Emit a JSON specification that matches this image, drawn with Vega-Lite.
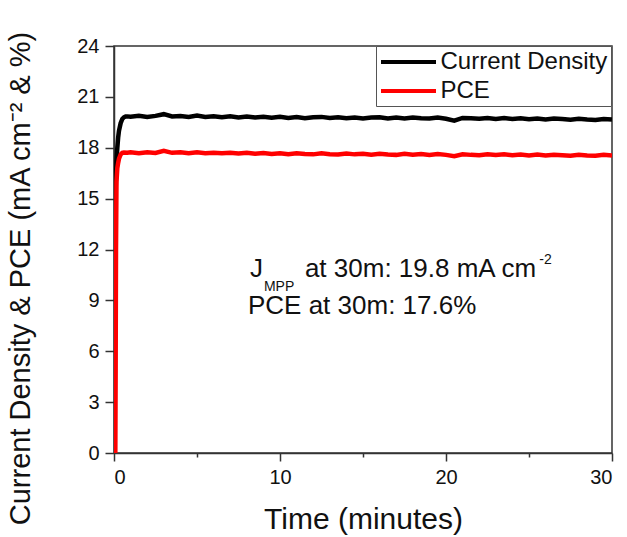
{
  "$schema": "https://vega.github.io/schema/vega-lite/v6.json",
  "width": 498,
  "height": 407,
  "autosize": {"type": "none"},
  "padding": {"left": 114, "top": 46, "right": 15, "bottom": 84},
  "background": "white",
  "config": {
    "font": "Liberation Sans",
    "view": {"stroke": "#333", "strokeWidth": 1.5},
    "axis": {
      "grid": false,
      "domainColor": "#333",
      "domainWidth": 1.5,
      "tickColor": "#333",
      "tickWidth": 1.5,
      "labelFont": "Liberation Sans",
      "labelFontSize": 20,
      "labelColor": "#111",
      "titleFont": "Liberation Sans",
      "titleFontWeight": "normal",
      "titleColor": "#111"
    }
  },
  "datasets": {
    "series": [
      {"t": 0, "v": 0, "s": "Current Density"},
      {"t": 0.05, "v": 8, "s": "Current Density"},
      {"t": 0.1, "v": 15.5, "s": "Current Density"},
      {"t": 0.15, "v": 17.2, "s": "Current Density"},
      {"t": 0.2, "v": 18.0, "s": "Current Density"},
      {"t": 0.25, "v": 18.6, "s": "Current Density"},
      {"t": 0.3, "v": 19.0, "s": "Current Density"},
      {"t": 0.4, "v": 19.45, "s": "Current Density"},
      {"t": 0.5, "v": 19.7, "s": "Current Density"},
      {"t": 0.6, "v": 19.8, "s": "Current Density"},
      {"t": 0.7, "v": 19.85, "s": "Current Density"},
      {"t": 0.8, "v": 19.85, "s": "Current Density"},
      {"t": 1, "v": 19.83, "s": "Current Density"},
      {"t": 1.5, "v": 19.88, "s": "Current Density"},
      {"t": 2, "v": 19.82, "s": "Current Density"},
      {"t": 2.5, "v": 19.88, "s": "Current Density"},
      {"t": 3, "v": 19.98, "s": "Current Density"},
      {"t": 3.5, "v": 19.85, "s": "Current Density"},
      {"t": 4, "v": 19.87, "s": "Current Density"},
      {"t": 4.5, "v": 19.82, "s": "Current Density"},
      {"t": 5, "v": 19.9, "s": "Current Density"},
      {"t": 5.5, "v": 19.81, "s": "Current Density"},
      {"t": 6, "v": 19.86, "s": "Current Density"},
      {"t": 6.5, "v": 19.8, "s": "Current Density"},
      {"t": 7, "v": 19.85, "s": "Current Density"},
      {"t": 7.5, "v": 19.79, "s": "Current Density"},
      {"t": 8, "v": 19.84, "s": "Current Density"},
      {"t": 8.5, "v": 19.78, "s": "Current Density"},
      {"t": 9, "v": 19.83, "s": "Current Density"},
      {"t": 9.5, "v": 19.77, "s": "Current Density"},
      {"t": 10, "v": 19.82, "s": "Current Density"},
      {"t": 10.5, "v": 19.76, "s": "Current Density"},
      {"t": 11, "v": 19.81, "s": "Current Density"},
      {"t": 11.5, "v": 19.74, "s": "Current Density"},
      {"t": 12, "v": 19.8, "s": "Current Density"},
      {"t": 12.5, "v": 19.82, "s": "Current Density"},
      {"t": 13, "v": 19.75, "s": "Current Density"},
      {"t": 13.5, "v": 19.8, "s": "Current Density"},
      {"t": 14, "v": 19.74, "s": "Current Density"},
      {"t": 14.5, "v": 19.79, "s": "Current Density"},
      {"t": 15, "v": 19.73, "s": "Current Density"},
      {"t": 15.5, "v": 19.78, "s": "Current Density"},
      {"t": 16, "v": 19.8, "s": "Current Density"},
      {"t": 16.5, "v": 19.72, "s": "Current Density"},
      {"t": 17, "v": 19.78, "s": "Current Density"},
      {"t": 17.5, "v": 19.73, "s": "Current Density"},
      {"t": 18, "v": 19.79, "s": "Current Density"},
      {"t": 18.5, "v": 19.74, "s": "Current Density"},
      {"t": 19, "v": 19.72, "s": "Current Density"},
      {"t": 19.5, "v": 19.78, "s": "Current Density"},
      {"t": 20, "v": 19.71, "s": "Current Density"},
      {"t": 20.5, "v": 19.6, "s": "Current Density"},
      {"t": 21, "v": 19.76, "s": "Current Density"},
      {"t": 21.5, "v": 19.74, "s": "Current Density"},
      {"t": 22, "v": 19.71, "s": "Current Density"},
      {"t": 22.5, "v": 19.76, "s": "Current Density"},
      {"t": 23, "v": 19.7, "s": "Current Density"},
      {"t": 23.5, "v": 19.75, "s": "Current Density"},
      {"t": 24, "v": 19.69, "s": "Current Density"},
      {"t": 24.5, "v": 19.74, "s": "Current Density"},
      {"t": 25, "v": 19.68, "s": "Current Density"},
      {"t": 25.5, "v": 19.73, "s": "Current Density"},
      {"t": 26, "v": 19.66, "s": "Current Density"},
      {"t": 26.5, "v": 19.72, "s": "Current Density"},
      {"t": 27, "v": 19.69, "s": "Current Density"},
      {"t": 27.5, "v": 19.65, "s": "Current Density"},
      {"t": 28, "v": 19.71, "s": "Current Density"},
      {"t": 28.5, "v": 19.66, "s": "Current Density"},
      {"t": 29, "v": 19.64, "s": "Current Density"},
      {"t": 29.5, "v": 19.7, "s": "Current Density"},
      {"t": 30, "v": 19.66, "s": "Current Density"},
      {"t": 0, "v": 0, "s": "PCE"},
      {"t": 0.05, "v": 0, "s": "PCE"},
      {"t": 0.08, "v": 0, "s": "PCE"},
      {"t": 0.1, "v": 5, "s": "PCE"},
      {"t": 0.12, "v": 12, "s": "PCE"},
      {"t": 0.15, "v": 16.0, "s": "PCE"},
      {"t": 0.2, "v": 16.8, "s": "PCE"},
      {"t": 0.25, "v": 17.1, "s": "PCE"},
      {"t": 0.3, "v": 17.35, "s": "PCE"},
      {"t": 0.4, "v": 17.6, "s": "PCE"},
      {"t": 0.5, "v": 17.7, "s": "PCE"},
      {"t": 0.6, "v": 17.72, "s": "PCE"},
      {"t": 0.8, "v": 17.7, "s": "PCE"},
      {"t": 1, "v": 17.73, "s": "PCE"},
      {"t": 1.5, "v": 17.68, "s": "PCE"},
      {"t": 2, "v": 17.74, "s": "PCE"},
      {"t": 2.5, "v": 17.69, "s": "PCE"},
      {"t": 3, "v": 17.82, "s": "PCE"},
      {"t": 3.5, "v": 17.7, "s": "PCE"},
      {"t": 4, "v": 17.73, "s": "PCE"},
      {"t": 4.5, "v": 17.68, "s": "PCE"},
      {"t": 5, "v": 17.73, "s": "PCE"},
      {"t": 5.5, "v": 17.68, "s": "PCE"},
      {"t": 6, "v": 17.71, "s": "PCE"},
      {"t": 6.5, "v": 17.67, "s": "PCE"},
      {"t": 7, "v": 17.7, "s": "PCE"},
      {"t": 7.5, "v": 17.66, "s": "PCE"},
      {"t": 8, "v": 17.7, "s": "PCE"},
      {"t": 8.5, "v": 17.64, "s": "PCE"},
      {"t": 9, "v": 17.69, "s": "PCE"},
      {"t": 9.5, "v": 17.63, "s": "PCE"},
      {"t": 10, "v": 17.68, "s": "PCE"},
      {"t": 10.5, "v": 17.62, "s": "PCE"},
      {"t": 11, "v": 17.67, "s": "PCE"},
      {"t": 11.5, "v": 17.63, "s": "PCE"},
      {"t": 12, "v": 17.61, "s": "PCE"},
      {"t": 12.5, "v": 17.67, "s": "PCE"},
      {"t": 13, "v": 17.62, "s": "PCE"},
      {"t": 13.5, "v": 17.6, "s": "PCE"},
      {"t": 14, "v": 17.66, "s": "PCE"},
      {"t": 14.5, "v": 17.61, "s": "PCE"},
      {"t": 15, "v": 17.65, "s": "PCE"},
      {"t": 15.5, "v": 17.59, "s": "PCE"},
      {"t": 16, "v": 17.64, "s": "PCE"},
      {"t": 16.5, "v": 17.6, "s": "PCE"},
      {"t": 17, "v": 17.58, "s": "PCE"},
      {"t": 17.5, "v": 17.64, "s": "PCE"},
      {"t": 18, "v": 17.59, "s": "PCE"},
      {"t": 18.5, "v": 17.63, "s": "PCE"},
      {"t": 19, "v": 17.58, "s": "PCE"},
      {"t": 19.5, "v": 17.63, "s": "PCE"},
      {"t": 20, "v": 17.58, "s": "PCE"},
      {"t": 20.5, "v": 17.5, "s": "PCE"},
      {"t": 21, "v": 17.62, "s": "PCE"},
      {"t": 21.5, "v": 17.58, "s": "PCE"},
      {"t": 22, "v": 17.56, "s": "PCE"},
      {"t": 22.5, "v": 17.62, "s": "PCE"},
      {"t": 23, "v": 17.57, "s": "PCE"},
      {"t": 23.5, "v": 17.61, "s": "PCE"},
      {"t": 24, "v": 17.56, "s": "PCE"},
      {"t": 24.5, "v": 17.6, "s": "PCE"},
      {"t": 25, "v": 17.55, "s": "PCE"},
      {"t": 25.5, "v": 17.6, "s": "PCE"},
      {"t": 26, "v": 17.54, "s": "PCE"},
      {"t": 26.5, "v": 17.59, "s": "PCE"},
      {"t": 27, "v": 17.56, "s": "PCE"},
      {"t": 27.5, "v": 17.53, "s": "PCE"},
      {"t": 28, "v": 17.59, "s": "PCE"},
      {"t": 28.5, "v": 17.54, "s": "PCE"},
      {"t": 29, "v": 17.53, "s": "PCE"},
      {"t": 29.5, "v": 17.58, "s": "PCE"},
      {"t": 30, "v": 17.55, "s": "PCE"}
    ],
    "bigText": [
      {"t": 8.19, "v": 10.38, "label": "J"},
      {"t": 11.5, "v": 10.38, "label": "at 30m: 19.8 mA cm"},
      {"t": 8.07, "v": 8.2, "label": "PCE at 30m: 17.6%"}
    ],
    "smallText": [
      {"t": 9.03, "v": 9.55, "label": "MPP"},
      {"t": 25.62, "v": 11.15, "label": "-2"}
    ]
  },
  "layer": [
    {
      "data": {"name": "series"},
      "mark": {"type": "line", "strokeWidth": 4.5, "clip": true},
      "encoding": {
        "x": {
          "field": "t",
          "type": "quantitative",
          "scale": {"domain": [0, 30], "nice": false},
          "axis": {
            "title": "Time (minutes)",
            "titleFontSize": 30,
            "titleX": 249,
            "titleY": 75,
            "titleBaseline": "alphabetic",
            "values": [0, 5, 10, 15, 20, 25, 30],
            "labelExpr": "datum.value % 10 === 0 ? format(datum.value, 'd') : ''",
            "labelFontSize": 20,
            "labelFont": "Liberation Sans",
            "tickSize": {"condition": {"test": "datum.value % 10 === 0", "value": 8}, "value": 4},
            "labelPadding": 6
          }
        },
        "y": {
          "field": "v",
          "type": "quantitative",
          "scale": {"domain": [0, 24], "nice": false},
          "axis": {
            "title": "Current Density & PCE (mA cm⁻² & %)",
            "titleFontSize": 29,
            "titleX": -85,
            "titleY": 232,
            "titleAngle": -90,
            "titleAlign": "center",
            "titleBaseline": "alphabetic",
            "values": [0, 1.5, 3, 4.5, 6, 7.5, 9, 10.5, 12, 13.5, 15, 16.5, 18, 19.5, 21, 22.5, 24],
            "labelExpr": "datum.value % 3 === 0 ? format(datum.value, 'd') : ''",
            "labelFontSize": 20,
            "labelFont": "Liberation Sans",
            "tickSize": {"condition": {"test": "datum.value % 3 === 0", "value": 9}, "value": 5},
            "labelPadding": 6
          }
        },
        "color": {
          "field": "s",
          "type": "nominal",
          "scale": {"domain": ["Current Density", "PCE"], "range": ["#000000", "#ff0000"]},
          "legend": {
            "title": null,
            "orient": "none",
            "legendX": 262,
            "legendY": 0,
            "symbolType": "M-2.5,0H2.5",
            "symbolSize": 484,
            "symbolOffset": 16.5,
            "symbolStrokeWidth": 4,
            "labelFontSize": 24,
            "labelFont": "Liberation Sans",
            "labelColor": "#111",
            "labelLimit": 400,
            "labelOffset": 19,
            "rowPadding": 4,
            "padding": 3,
            "strokeColor": "#555",
            "fillColor": "white"
          }
        }
      }
    },
    {
      "data": {"name": "bigText"},
      "mark": {"type": "text", "align": "left", "baseline": "alphabetic", "fontSize": 26, "font": "Liberation Sans", "color": "#111"},
      "encoding": {
        "x": {"field": "t", "type": "quantitative", "title": "Time (minutes)"},
        "y": {"field": "v", "type": "quantitative", "title": "Current Density & PCE (mA cm⁻² & %)"},
        "text": {"field": "label"}
      }
    },
    {
      "data": {"name": "smallText"},
      "mark": {"type": "text", "align": "left", "baseline": "alphabetic", "fontSize": 14, "font": "Liberation Sans", "color": "#111"},
      "encoding": {
        "x": {"field": "t", "type": "quantitative", "title": "Time (minutes)"},
        "y": {"field": "v", "type": "quantitative", "title": "Current Density & PCE (mA cm⁻² & %)"},
        "text": {"field": "label"}
      }
    }
  ]
}
